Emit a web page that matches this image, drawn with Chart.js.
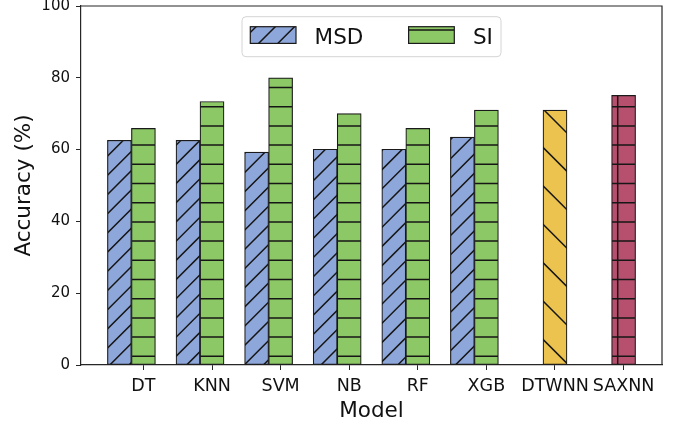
<!DOCTYPE html>
<html>
<head>
<meta charset="utf-8">
<script src="https://cdn.jsdelivr.net/npm/chart.js@4.4.1/dist/chart.umd.min.js"></script>
<style>
  html, body { margin: 0; padding: 0; background: #fff; }
  #wrap { width: 686px; height: 424px; }
</style>
</head>
<body>
<div id="wrap"><canvas id="chart" width="686" height="424"></canvas></div>
<script>
// Accuracy (%) per model, two feature sets plus the two sequence-based models
const models = ['DT', 'KNN', 'SVM', 'NB', 'RF', 'XGB', 'DTWNN', 'SAXNN'];
const msdAcc = [62.6, 62.6, 59.3, 60.1, 60.1, 63.5, 0, 0];
const siAcc = [65.9, 73.4, 80.0, 70.0, 65.9, 71.0];
const dtwnnAcc = [71.0];
const saxnnAcc = [75.1];
const yTickValues = [0, 20, 40, 60, 80, 100];

const FONT = "'DejaVu Sans', sans-serif";
const INK = '#111';
const SPINE = '#262626';
const BAR_W = 0.35;               // bar width in category units
const nCat = models.length;
const span = (nCat - 1) + 2 * BAR_W;
const xMin = -1.5 * BAR_W - 0.05 * span;
const xMax = (nCat - 1) + 0.5 * BAR_W + 0.05 * span;

const canvas = document.getElementById('chart');
const ctx = canvas.getContext('2d');

// Hatched fills, anchored to the canvas so the lines run continuously between bars
const STEP = 19.2;
function hatchFill(color, drawLines) {
  const t = document.createElement('canvas');
  t.width = 192; t.height = 192;
  const g = t.getContext('2d');
  g.fillStyle = color;
  g.fillRect(0, 0, 192, 192);
  g.strokeStyle = '#161616';
  g.lineWidth = 1.5;
  g.beginPath();
  drawLines(g);
  g.stroke();
  return ctx.createPattern(t, 'repeat');
}
const forwardLines = (phase, step) => g => {      // "/"
  for (let t = phase - 2 * step; t < 420; t += step) { g.moveTo(t + 12, -12); g.lineTo(t - 204, 204); }
};
const backLines = (phase, step) => g => {         // "\"
  for (let t = phase - 192 - step; t < 210; t += step) { g.moveTo(t - 12, -12); g.lineTo(t + 204, 204); }
};
const rowLines = (phase, step) => g => {          // "-"
  for (let y = phase; y < 192; y += step) { g.moveTo(-2, y); g.lineTo(194, y); }
};
const colLines = (phase, step) => g => {          // "|"
  for (let x = phase; x < 192; x += step) { g.moveTo(x, -2); g.lineTo(x, 194); }
};

const fillMSD = hatchFill('#8ea7da', forwardLines(14, STEP));
const fillSI = hatchFill('#8cc865', rowLines(10.7, STEP));
const fillDTW = hatchFill('#edc34f', backLines(11.6, 2 * STEP));
const fillSAX = hatchFill('#b7506f', g => { rowLines(10.7, STEP)(g); colLines(3.3, STEP)(g); });

const barStyle = { borderColor: '#1a1a1a', borderWidth: 1.2, borderSkipped: false };

const datasets = [
  Object.assign({ label: 'MSD', backgroundColor: fillMSD,
    data: msdAcc.map((v, i) => ({ x: i - BAR_W, y: v })) }, barStyle),
  Object.assign({ label: 'SI', backgroundColor: fillSI,
    data: siAcc.map((v, i) => ({ x: i, y: v })) }, barStyle),
  Object.assign({ label: 'DTWNN', backgroundColor: fillDTW, inLegend: false,
    data: dtwnnAcc.map(v => ({ x: models.indexOf('DTWNN'), y: v })) }, barStyle),
  Object.assign({ label: 'SAXNN', backgroundColor: fillSAX, inLegend: false,
    data: saxnnAcc.map(v => ({ x: models.indexOf('SAXNN'), y: v })) }, barStyle)
];

// Top and right frame lines
const frame = {
  id: 'frame',
  afterDatasetsDraw(chart) {
    const { ctx: c, chartArea: a } = chart;
    c.save();
    c.strokeStyle = SPINE;
    c.lineWidth = 1.2;
    c.beginPath();
    c.moveTo(a.left, a.top);
    c.lineTo(a.right, a.top);
    c.lineTo(a.right, a.bottom);
    c.stroke();
    c.restore();
  }
};

// Boxed legend centred at the top of the plot
const boxLegend = {
  id: 'boxLegend',
  afterDraw(chart) {
    const { ctx: c, chartArea: a } = chart;
    const items = chart.data.datasets.filter(d => d.inLegend !== false);
    const w = 259, h = 40, r = 4;
    const x0 = (a.left + a.right) / 2 - w / 2;
    const y0 = a.top + 10.7;
    c.save();
    c.beginPath();
    c.roundRect(x0, y0, w, h, r);
    c.fillStyle = 'rgba(255,255,255,0.8)';
    c.fill();
    c.strokeStyle = '#d4d4d4';
    c.lineWidth = 1;
    c.stroke();
    const slots = [8.3, 166.6];
    items.forEach((d, i) => {
      const px = x0 + slots[i];
      c.fillStyle = d.backgroundColor;
      c.fillRect(px, y0 + 10, 45.7, 16.7);
      c.strokeStyle = '#1a1a1a';
      c.lineWidth = 1.2;
      c.strokeRect(px, y0 + 10, 45.7, 16.7);
      c.fillStyle = INK;
      c.font = `21.5px ${FONT}`;
      c.textBaseline = 'alphabetic';
      c.textAlign = 'left';
      c.fillText(d.label, px + 64.3, y0 + 26.8);
    });
    c.restore();
  }
};

new Chart(canvas, {
  type: 'bar',
  data: { datasets },
  options: {
    responsive: false,
    animation: false,
    devicePixelRatio: 1,
    categoryPercentage: 1,
    barPercentage: 1,
    layout: { padding: { top: 6, right: 24, left: 0, bottom: 0 } },
    plugins: { legend: { display: false }, tooltip: { enabled: false } },
    scales: {
      x: {
        type: 'linear',
        stacked: true,
        offset: false,
        min: xMin,
        max: xMax,
        afterBuildTicks: s => { s.ticks = models.map((_, i) => ({ value: i })); },
        afterFit: s => { s.height = 59; s.paddingLeft = 0; s.paddingRight = 0; },
        ticks: {
          autoSkip: false,
          maxRotation: 0,
          color: INK,
          padding: 6,
          font: { family: FONT, size: 17.5 },
          callback: v => models[Math.round(v)]
        },
        grid: { offset: false, drawOnChartArea: false, drawTicks: true, tickLength: 5, color: SPINE, lineWidth: 1 },
        border: { color: SPINE, width: 1.2 },
        title: { display: true, text: 'Model', color: INK, font: { family: FONT, size: 21.5 }, padding: { top: 0, bottom: 0 } }
      },
      y: {
        min: 0,
        max: 100,
        afterBuildTicks: s => { s.ticks = yTickValues.map(v => ({ value: v })); },
        afterFit: s => { s.width = 81; s.paddingTop = 0; s.paddingBottom = 0; },
        ticks: { color: INK, padding: 6, font: { family: FONT, size: 15 } },
        grid: { drawOnChartArea: false, drawTicks: true, tickLength: 5, color: SPINE, lineWidth: 1 },
        border: { color: SPINE, width: 1.2 },
        title: { display: true, text: 'Accuracy (%)', color: INK, font: { family: FONT, size: 21.5 }, padding: { top: 12, bottom: 0 } }
      }
    }
  },
  plugins: [frame, boxLegend]
});
</script>
</body>
</html>
